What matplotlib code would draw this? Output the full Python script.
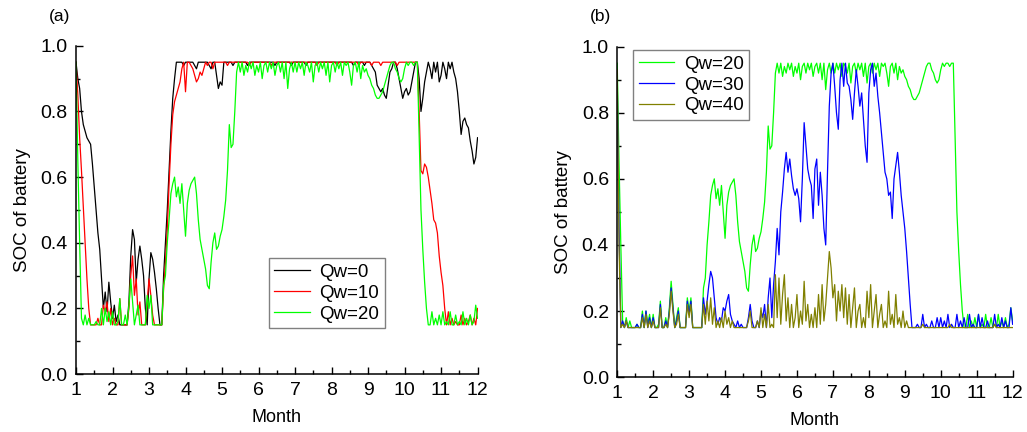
import matplotlib
matplotlib.use("Agg")
import matplotlib.pyplot as plt
import numpy as np
from matplotlib.ticker import MultipleLocator

plt.rcParams["font.family"] = ["Liberation Sans", "DejaVu Sans"]

# sampling grid: every 0.05 month from 1 to 12 (221 points)
months = np.round(np.linspace(1, 12, 221), 2)

# SOC, one row per month (x.00 ... x.95), last value = month 12
soc_qw0 = [
    0.95, 0.90, 0.87, 0.80, 0.76, 0.74, 0.72, 0.71, 0.70, 0.64, 0.57, 0.50, 0.43, 0.38, 0.29, 0.20, 0.25, 0.19, 0.28, 0.22,
    0.17, 0.21, 0.16, 0.18, 0.15, 0.15, 0.15, 0.15, 0.15, 0.22, 0.36, 0.44, 0.41, 0.28, 0.35, 0.39, 0.35, 0.30, 0.20, 0.15,
    0.29, 0.37, 0.35, 0.31, 0.26, 0.20, 0.15, 0.15, 0.30, 0.40, 0.50, 0.62, 0.74, 0.84, 0.90, 0.95, 0.95, 0.95, 0.95, 0.94,
    0.95, 0.95, 0.95, 0.95, 0.95, 0.94, 0.93, 0.95, 0.95, 0.95, 0.95, 0.95, 0.95, 0.94, 0.93, 0.95, 0.95, 0.91, 0.87, 0.89,
    0.88, 0.95, 0.95, 0.95, 0.95, 0.95, 0.94, 0.95, 0.95, 0.95, 0.95, 0.95, 0.95, 0.95, 0.94, 0.95, 0.95, 0.95, 0.95, 0.95,
    0.95, 0.95, 0.95, 0.95, 0.95, 0.95, 0.95, 0.95, 0.95, 0.94, 0.95, 0.95, 0.95, 0.95, 0.95, 0.95, 0.95, 0.95, 0.94, 0.95,
    0.95, 0.95, 0.95, 0.95, 0.95, 0.95, 0.94, 0.95, 0.95, 0.95, 0.95, 0.95, 0.95, 0.95, 0.95, 0.95, 0.95, 0.95, 0.95, 0.95,
    0.95, 0.95, 0.95, 0.95, 0.95, 0.95, 0.95, 0.95, 0.95, 0.95, 0.95, 0.95, 0.94, 0.95, 0.95, 0.95, 0.95, 0.95, 0.94, 0.95,
    0.95, 0.95, 0.94, 0.93, 0.92, 0.88, 0.87, 0.86, 0.87, 0.85, 0.84, 0.88, 0.92, 0.93, 0.95, 0.95, 0.93, 0.90, 0.87, 0.84,
    0.86, 0.87, 0.85, 0.86, 0.89, 0.92, 0.95, 0.95, 0.90, 0.80, 0.84, 0.89, 0.92, 0.95, 0.93, 0.90, 0.95, 0.92, 0.95, 0.89,
    0.91, 0.95, 0.93, 0.90, 0.95, 0.93, 0.95, 0.92, 0.90, 0.86, 0.80, 0.73, 0.77, 0.78, 0.76, 0.75, 0.71, 0.68, 0.64, 0.66,
    0.72,
]

soc_qw10 = [
    0.95, 0.85, 0.72, 0.62, 0.51, 0.40, 0.29, 0.20, 0.15, 0.15, 0.15, 0.15, 0.17, 0.15, 0.15, 0.21, 0.19, 0.22, 0.16, 0.20,
    0.15, 0.17, 0.15, 0.15, 0.23, 0.15, 0.15, 0.15, 0.15, 0.20, 0.30, 0.36, 0.24, 0.29, 0.18, 0.22, 0.15, 0.15, 0.15, 0.22,
    0.29, 0.24, 0.18, 0.15, 0.15, 0.15, 0.15, 0.15, 0.26, 0.34, 0.44, 0.58, 0.70, 0.79, 0.83, 0.85, 0.87, 0.89, 0.93, 0.95,
    0.86, 0.95, 0.95, 0.94, 0.93, 0.91, 0.89, 0.90, 0.92, 0.91, 0.93, 0.95, 0.94, 0.95, 0.95, 0.93, 0.95, 0.95, 0.95, 0.95,
    0.95, 0.95, 0.95, 0.94, 0.95, 0.95, 0.95, 0.95, 0.95, 0.95, 0.95, 0.95, 0.95, 0.95, 0.95, 0.94, 0.95, 0.95, 0.95, 0.95,
    0.95, 0.95, 0.95, 0.95, 0.95, 0.95, 0.95, 0.94, 0.95, 0.95, 0.95, 0.95, 0.95, 0.95, 0.95, 0.95, 0.95, 0.95, 0.95, 0.95,
    0.95, 0.95, 0.95, 0.95, 0.95, 0.95, 0.95, 0.95, 0.95, 0.95, 0.95, 0.95, 0.94, 0.95, 0.95, 0.95, 0.95, 0.95, 0.95, 0.95,
    0.95, 0.95, 0.95, 0.94, 0.95, 0.95, 0.95, 0.95, 0.95, 0.95, 0.95, 0.95, 0.95, 0.95, 0.95, 0.94, 0.95, 0.95, 0.95, 0.95,
    0.95, 0.95, 0.94, 0.95, 0.95, 0.95, 0.95, 0.94, 0.95, 0.95, 0.95, 0.95, 0.95, 0.95, 0.95, 0.95, 0.94, 0.95, 0.95, 0.95,
    0.95, 0.95, 0.95, 0.95, 0.95, 0.95, 0.95, 0.95, 0.80, 0.62, 0.61, 0.64, 0.63, 0.60, 0.56, 0.52, 0.47, 0.46, 0.43, 0.36,
    0.31, 0.27, 0.20, 0.15, 0.19, 0.15, 0.17, 0.15, 0.16, 0.15, 0.15, 0.18, 0.15, 0.17, 0.15, 0.16, 0.18, 0.15, 0.17, 0.15,
    0.20,
]

soc_qw20 = [
    0.95, 0.65, 0.40, 0.17, 0.15, 0.18, 0.15, 0.17, 0.15, 0.15, 0.15, 0.16, 0.15, 0.15, 0.20, 0.15, 0.20, 0.16, 0.19, 0.15,
    0.19, 0.15, 0.15, 0.16, 0.23, 0.15, 0.15, 0.18, 0.15, 0.21, 0.29, 0.22, 0.15, 0.18, 0.21, 0.15, 0.15, 0.15, 0.15, 0.24,
    0.20, 0.24, 0.15, 0.15, 0.15, 0.15, 0.15, 0.15, 0.27, 0.30, 0.40, 0.47, 0.55, 0.58, 0.60, 0.54, 0.57, 0.52, 0.58, 0.50,
    0.42, 0.52, 0.56, 0.58, 0.59, 0.60, 0.55, 0.47, 0.41, 0.38, 0.35, 0.32, 0.27, 0.26, 0.34, 0.40, 0.43, 0.38, 0.39, 0.42,
    0.44, 0.48, 0.53, 0.62, 0.76, 0.69, 0.70, 0.80, 0.92, 0.95, 0.92, 0.95, 0.91, 0.94, 0.92, 0.95, 0.93, 0.95, 0.91, 0.94,
    0.92, 0.95, 0.90, 0.94, 0.95, 0.92, 0.95, 0.93, 0.95, 0.91, 0.94, 0.95, 0.92, 0.95, 0.90, 0.95, 0.87, 0.93, 0.95, 0.92,
    0.95, 0.92, 0.95, 0.93, 0.95, 0.91, 0.95, 0.94, 0.92, 0.95, 0.89, 0.94, 0.95, 0.92, 0.95, 0.93, 0.95, 0.91, 0.95, 0.89,
    0.94, 0.95, 0.92, 0.95, 0.93, 0.95, 0.91, 0.95, 0.94, 0.95, 0.92, 0.88, 0.94, 0.95, 0.92, 0.95, 0.90, 0.94, 0.92, 0.93,
    0.91, 0.90, 0.88, 0.87, 0.85, 0.84, 0.84, 0.85, 0.86, 0.88, 0.90, 0.92, 0.94, 0.95, 0.95, 0.93, 0.92, 0.90, 0.89, 0.90,
    0.93, 0.95, 0.94, 0.95, 0.95, 0.94, 0.95, 0.95, 0.72, 0.50, 0.38, 0.28, 0.20, 0.15, 0.15, 0.19, 0.15, 0.17, 0.15, 0.18,
    0.15, 0.19, 0.15, 0.16, 0.15, 0.19, 0.15, 0.15, 0.18, 0.15, 0.16, 0.15, 0.19, 0.15, 0.17, 0.15, 0.18, 0.15, 0.16, 0.21,
    0.17,
]

soc_qw30 = [
    0.90, 0.45, 0.15, 0.17, 0.15, 0.17, 0.15, 0.15, 0.15, 0.15, 0.15, 0.16, 0.15, 0.15, 0.19, 0.15, 0.20, 0.15, 0.18, 0.15,
    0.18, 0.15, 0.15, 0.15, 0.22, 0.15, 0.15, 0.17, 0.15, 0.20, 0.27, 0.21, 0.15, 0.17, 0.20, 0.15, 0.15, 0.15, 0.15, 0.23,
    0.19, 0.23, 0.15, 0.15, 0.15, 0.15, 0.15, 0.15, 0.24, 0.19, 0.23, 0.28, 0.32, 0.30, 0.24, 0.18, 0.16, 0.18, 0.17, 0.21,
    0.20, 0.23, 0.25, 0.19, 0.17, 0.16, 0.15, 0.17, 0.15, 0.16, 0.15, 0.15, 0.15, 0.18, 0.22, 0.17, 0.15, 0.15, 0.17, 0.15,
    0.20, 0.18, 0.22, 0.15, 0.24, 0.30, 0.18, 0.28, 0.35, 0.45, 0.37, 0.50, 0.56, 0.63, 0.68, 0.62, 0.66, 0.61, 0.57, 0.55,
    0.57, 0.54, 0.47, 0.60, 0.77, 0.70, 0.63, 0.60, 0.58, 0.48, 0.63, 0.66, 0.52, 0.62, 0.55, 0.45, 0.40, 0.62, 0.82, 0.92,
    0.95, 0.88, 0.80, 0.75, 0.90, 0.95, 0.88, 0.95, 0.89, 0.88, 0.84, 0.78, 0.86, 0.93, 0.88, 0.82, 0.86, 0.78, 0.70, 0.65,
    0.86, 0.93, 0.95, 0.88, 0.92, 0.85, 0.80, 0.74, 0.68, 0.62, 0.60, 0.55, 0.56, 0.48, 0.60, 0.64, 0.68, 0.62, 0.55, 0.50,
    0.45, 0.38, 0.30, 0.22, 0.15, 0.15, 0.15, 0.16, 0.15, 0.15, 0.19, 0.15, 0.16, 0.15, 0.15, 0.17, 0.15, 0.15, 0.18, 0.15,
    0.18, 0.15, 0.17, 0.15, 0.19, 0.15, 0.16, 0.15, 0.15, 0.19, 0.15, 0.17, 0.15, 0.18, 0.15, 0.15, 0.19, 0.15, 0.16, 0.15,
    0.15, 0.19, 0.15, 0.18, 0.15, 0.15, 0.17, 0.15, 0.15, 0.15, 0.19, 0.15, 0.16, 0.15, 0.18, 0.15, 0.17, 0.15, 0.15, 0.21,
    0.16,
]

soc_qw40 = [
    0.93, 0.40, 0.15, 0.16, 0.15, 0.17, 0.15, 0.15, 0.15, 0.15, 0.15, 0.15, 0.15, 0.15, 0.18, 0.15, 0.19, 0.15, 0.17, 0.15,
    0.17, 0.15, 0.15, 0.15, 0.21, 0.15, 0.15, 0.16, 0.15, 0.19, 0.26, 0.20, 0.15, 0.16, 0.19, 0.15, 0.15, 0.15, 0.15, 0.22,
    0.18, 0.22, 0.15, 0.15, 0.15, 0.15, 0.15, 0.15, 0.22, 0.16, 0.23, 0.17, 0.24, 0.16, 0.21, 0.15, 0.17, 0.15, 0.18, 0.15,
    0.20, 0.16, 0.18, 0.15, 0.17, 0.15, 0.15, 0.15, 0.15, 0.15, 0.15, 0.15, 0.15, 0.17, 0.20, 0.15, 0.15, 0.15, 0.17, 0.15,
    0.21, 0.15, 0.19, 0.15, 0.22, 0.15, 0.16, 0.15, 0.31, 0.18, 0.30, 0.16, 0.25, 0.31, 0.17, 0.24, 0.15, 0.22, 0.15, 0.18,
    0.25, 0.15, 0.20, 0.16, 0.29, 0.17, 0.22, 0.15, 0.19, 0.15, 0.21, 0.15, 0.25, 0.16, 0.28, 0.17, 0.22, 0.30, 0.38, 0.33,
    0.24, 0.28, 0.17, 0.26, 0.20, 0.28, 0.18, 0.27, 0.16, 0.25, 0.15, 0.21, 0.27, 0.15, 0.20, 0.22, 0.15, 0.18, 0.15, 0.26,
    0.18, 0.28, 0.15, 0.20, 0.25, 0.15, 0.19, 0.22, 0.15, 0.17, 0.15, 0.26, 0.16, 0.19, 0.15, 0.25, 0.16, 0.18, 0.15, 0.20,
    0.15, 0.17, 0.15, 0.15, 0.15, 0.15, 0.15, 0.15, 0.15, 0.15, 0.16, 0.15, 0.15, 0.15, 0.15, 0.15, 0.15, 0.15, 0.15, 0.15,
    0.15, 0.15, 0.15, 0.15, 0.15, 0.16, 0.15, 0.15, 0.15, 0.15, 0.15, 0.15, 0.15, 0.15, 0.15, 0.15, 0.15, 0.15, 0.15, 0.15,
    0.15, 0.15, 0.15, 0.15, 0.15, 0.15, 0.15, 0.15, 0.15, 0.15, 0.16, 0.15, 0.15, 0.15, 0.15, 0.15, 0.15, 0.15, 0.15, 0.15,
    0.15,
]

month_ticks = list(range(1, 13))
soc_ticks = [0.0, 0.2, 0.4, 0.6, 0.8, 1.0]

panel_a = [("Qw=0", soc_qw0, "black"), ("Qw=10", soc_qw10, "#ff0000"), ("Qw=20", soc_qw20, "#00ff00")]
panel_b = [("Qw=20", soc_qw20, "#00ff00"), ("Qw=30", soc_qw30, "#0000ff"), ("Qw=40", soc_qw40, "#808000")]


def style_axes(ax):
    for side in ("top", "right"):
        ax.spines[side].set_visible(False)
    for side in ("left", "bottom"):
        ax.spines[side].set_linewidth(1.1)
    ax.set_xlim(1, 12)
    ax.set_ylim(0, 1.0)
    ax.set_xticks(month_ticks)
    ax.set_yticks(soc_ticks)
    ax.set_yticklabels([f"{t:.1f}" for t in soc_ticks])
    ax.xaxis.set_minor_locator(MultipleLocator(0.5))
    ax.yaxis.set_minor_locator(MultipleLocator(0.1))
    ax.tick_params(which="major", direction="in", length=5, width=1.0, labelsize=14, pad=6)
    ax.tick_params(which="minor", direction="in", length=3, width=1.0)
    ax.tick_params(top=False, right=False, which="both")
    ax.set_xlabel("Month", fontsize=13, labelpad=7)
    ax.set_ylabel("SOC of battery", fontsize=13.5, labelpad=7)


fig = plt.figure(figsize=(10.27, 4.32), dpi=100)
ax_a = fig.add_axes([0.074, 0.134, 0.391, 0.760])
ax_b = fig.add_axes([0.601, 0.127, 0.385, 0.765])

for label, values, color in panel_a:
    ax_a.plot(months, values, color=color, linewidth=0.9, label=label)
for label, values, color in panel_b:
    ax_b.plot(months, values, color=color, linewidth=0.9, label=label)

for ax in (ax_a, ax_b):
    style_axes(ax)

leg_kw = dict(fontsize=13.5, frameon=True, fancybox=False, edgecolor="#808080",
              handlelength=1.9, handletextpad=0.5, borderpad=0.3, labelspacing=0.2,
              borderaxespad=0.0)
leg_a = ax_a.legend(loc="lower left", bbox_to_anchor=(0.48, 0.14), **leg_kw)
leg_b = ax_b.legend(loc="upper left", bbox_to_anchor=(0.04, 0.99), **leg_kw)
for leg in (leg_a, leg_b):
    leg.get_frame().set_linewidth(1.0)
    leg.get_frame().set_alpha(None)

fig.text(0.058, 0.962, "(a)", fontsize=12.5, ha="center", va="center")
fig.text(0.585, 0.962, "(b)", fontsize=12.5, ha="center", va="center")

fig.savefig("out.png", dpi=100)
